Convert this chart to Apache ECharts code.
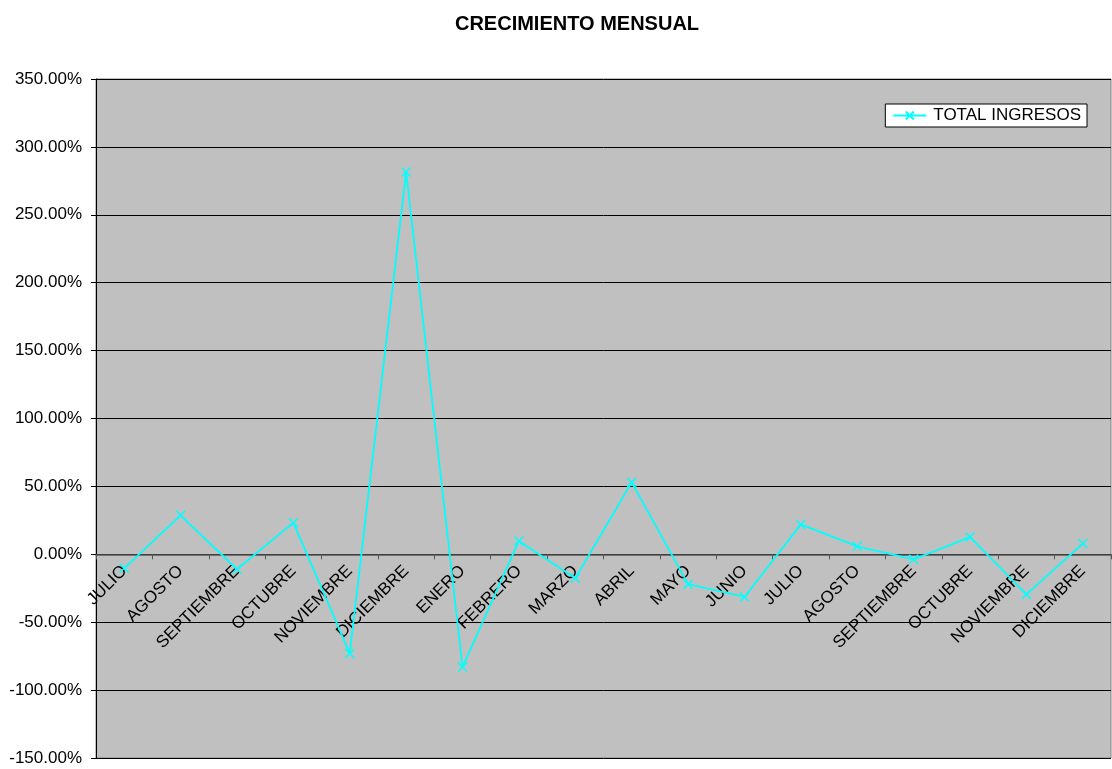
<!DOCTYPE html>
<html>
<head>
<meta charset="utf-8">
<script src="https://cdn.jsdelivr.net/npm/echarts@6/dist/echarts.min.js"></script>
<style>
  html, body { margin: 0; padding: 0; background: #fff; }
  #chart { width: 1112px; height: 769px; }
</style>
</head>
<body>
<div id="chart"></div>
<script>
// months shown on the x axis
const months = [
    'JULIO', 'AGOSTO', 'SEPTIEMBRE', 'OCTUBRE', 'NOVIEMBRE', 'DICIEMBRE',
    'ENERO', 'FEBRERO', 'MARZO', 'ABRIL', 'MAYO', 'JUNIO',
    'JULIO', 'AGOSTO', 'SEPTIEMBRE', 'OCTUBRE', 'NOVIEMBRE', 'DICIEMBRE'
];
// monthly growth, in percent
const totalIngresos = [
    -10.3, 28.7, -11.0, 23.3, -73.0, 281.5,
    -83.0, 9.8, -17.7, 53.0, -22.0, -31.4,
    22.0, 5.9, -3.7, 12.7, -29.5, 7.9
];

const crossMark = 'path://M0,0L10,10M10,0L0,10';

// plot area in pixels, used to put the category axis on the 0% line
const plotTop = 79, plotBottom = 758;
const yMin = -150, yMax = 350;
const zeroOffset = (plotBottom - plotTop) * (0 - yMin) / (yMax - yMin);

var myChart = echarts.init(document.getElementById('chart'));

var option = {
    animation: false,
    title: {
        text: 'CRECIMIENTO MENSUAL',
        left: 572,
        textAlign: 'center',
        top: 9,
        textStyle: {
            fontFamily: 'Liberation Sans',
            fontSize: 20,
            fontWeight: 'bold',
            color: '#000'
        }
    },
    legend: {
        right: 25,
        top: 104,
        orient: 'vertical',
        backgroundColor: '#fff',
        borderColor: '#000',
        borderWidth: 1,
        borderRadius: 0,
        padding: [3, 6, 3, 7],
        itemWidth: 33,
        itemHeight: 10,
        textStyle: {
            fontFamily: 'Liberation Sans',
            fontSize: 17,
            color: '#000',
            padding: [0, 0, 0, 2]
        },
        data: ['TOTAL INGRESOS']
    },
    grid: {
        left: 96,
        right: 1,
        top: plotTop,
        bottom: 769 - plotBottom,
        containLabel: false,
        outerBoundsMode: 'none',
        show: true,
        backgroundColor: '#c0c0c0',
        borderColor: '#808080',
        borderWidth: 1
    },
    xAxis: {
        type: 'category',
        data: months,
        boundaryGap: true,
        offset: -zeroOffset,
        axisLine: { onZero: false, lineStyle: { color: '#555', width: 1.5 } },
        axisTick: { show: true, inside: false, length: 5, lineStyle: { color: '#555' } },
        axisLabel: {
            rotate: 45,
            interval: 0,
            margin: 14,
            hideOverlap: false,
            fontFamily: 'Liberation Sans',
            fontSize: 17,
            color: '#000'
        },
        splitLine: { show: false }
    },
    yAxis: {
        type: 'value',
        min: yMin,
        max: yMax,
        interval: 50,
        axisLine: { show: true, lineStyle: { color: '#000' } },
        axisTick: { show: true, length: 5, lineStyle: { color: '#000' } },
        axisLabel: {
            margin: 14,
            fontFamily: 'Liberation Sans',
            fontSize: 17,
            color: '#000',
            formatter: v => v.toFixed(2) + '%'
        },
        splitLine: { show: true, lineStyle: { color: '#000', width: 1 } }
    },
    series: [
        {
            name: 'TOTAL INGRESOS',
            type: 'line',
            data: totalIngresos,
            symbol: crossMark,
            symbolSize: 9,
            showAllSymbol: true,
            lineStyle: { color: '#00ffff', width: 1.8 },
            itemStyle: { color: 'rgba(0,0,0,0)', borderColor: '#00ffff', borderWidth: 1.5 }
        }
    ]
};

myChart.setOption(option);
</script>
</body>
</html>
